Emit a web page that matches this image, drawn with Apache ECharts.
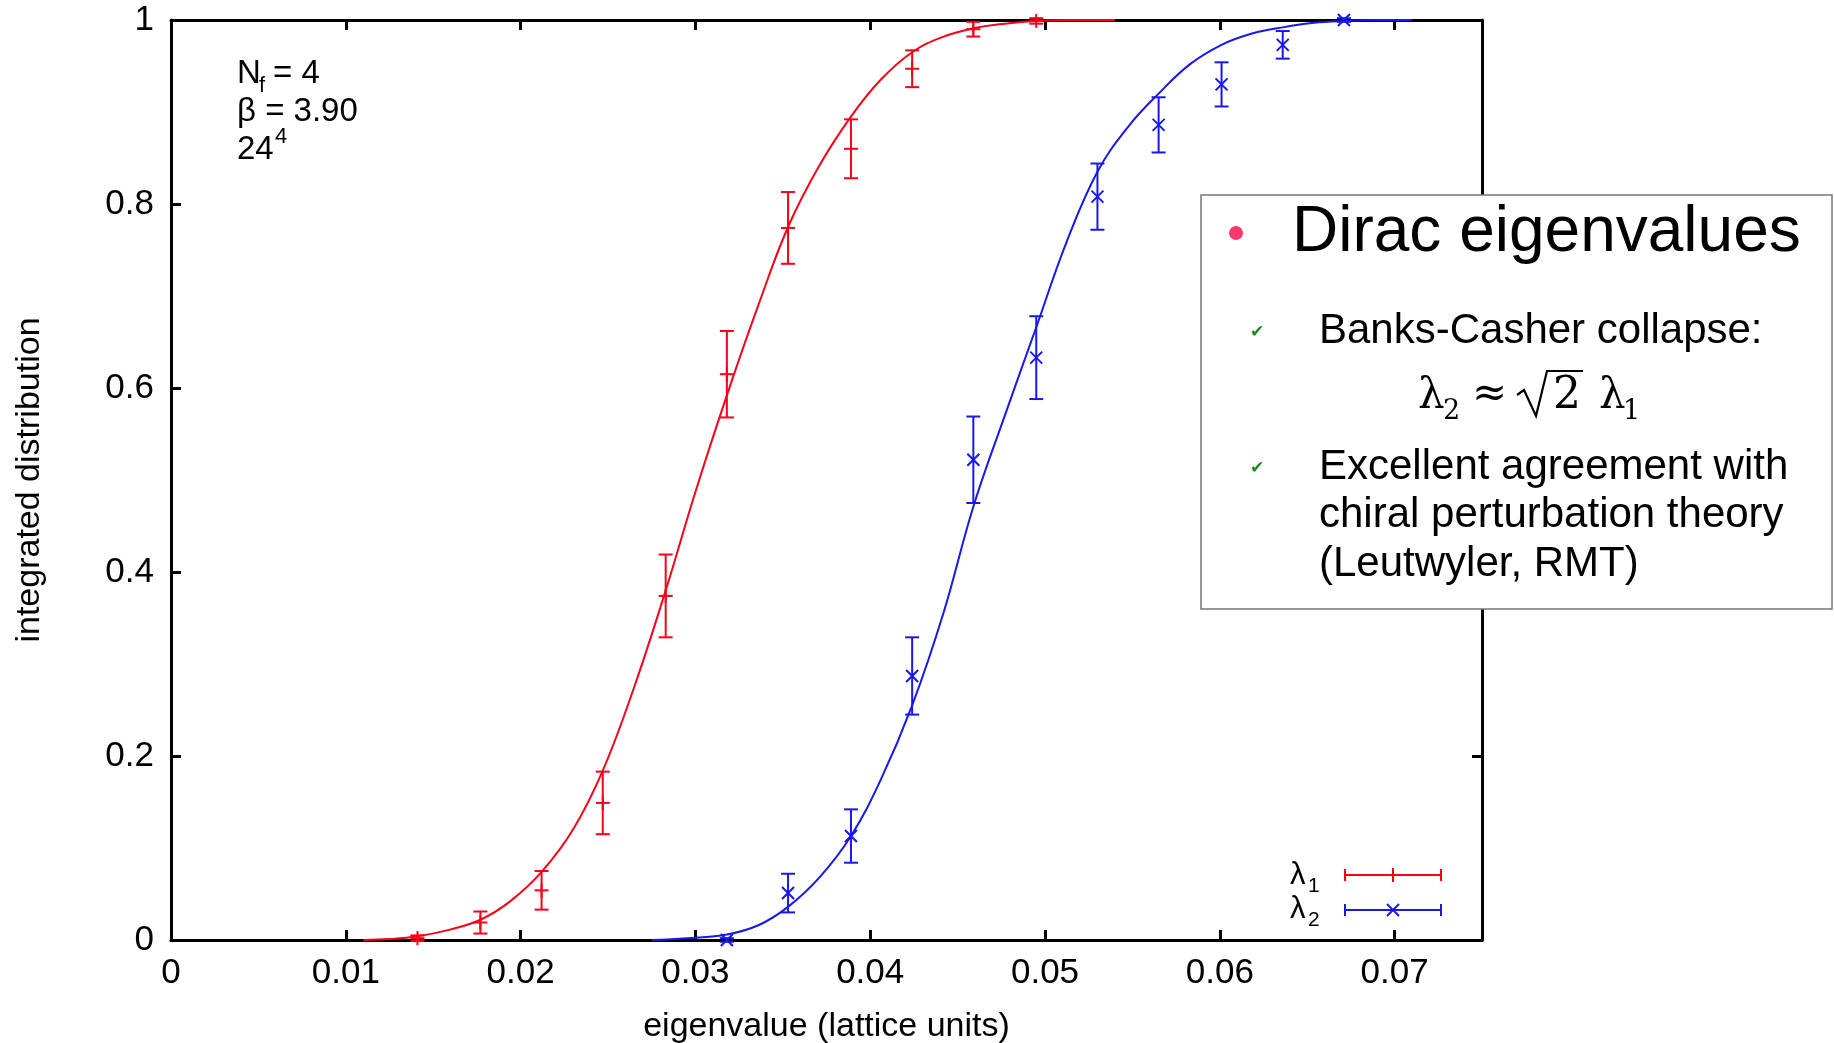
<!DOCTYPE html>
<html>
<head>
<meta charset="utf-8">
<script src="https://cdn.jsdelivr.net/npm/echarts@6/dist/echarts.min.js"></script>
<style>
  html, body { margin: 0; padding: 0; background: #fff; }
  #chart { width: 1834px; height: 1043px; }
</style>
</head>
<body>
<div id="chart"></div>
<script>
// ---------------- data ----------------
const xTicks = [0, 0.01, 0.02, 0.03, 0.04, 0.05, 0.06, 0.07];
const xTickLabels = ['0', '0.01', '0.02', '0.03', '0.04', '0.05', '0.06', '0.07'];
const yTicks = [0, 0.2, 0.4, 0.6, 0.8, 1];
const yTickLabels = ['0', '0.2', '0.4', '0.6', '0.8', '1'];

// lambda_1 data points (red, "+")
const l1X   = [0.0141, 0.0177, 0.0212, 0.0247, 0.0283, 0.0318, 0.0353, 0.0389, 0.0424, 0.0459, 0.0495];
const l1Y   = [0.002, 0.019, 0.054, 0.149, 0.374, 0.615, 0.774, 0.860, 0.947, 0.990, 0.999];
const l1Err = [0.003, 0.012, 0.021, 0.034, 0.045, 0.047, 0.039, 0.032, 0.020, 0.008, 0.003];

// lambda_2 data points (blue, "x")
const l2X   = [0.0318, 0.0353, 0.0389, 0.0424, 0.0459, 0.0495, 0.0530, 0.0565, 0.0601, 0.0636, 0.0671];
const l2Y   = [0.000, 0.051, 0.113, 0.287, 0.522, 0.633, 0.808, 0.886, 0.930, 0.973, 1.000];
const l2Err = [0.002, 0.021, 0.029, 0.042, 0.047, 0.045, 0.036, 0.030, 0.024, 0.015, 0.002];

// fitted curves
const fit1X = [0.0110, 0.0125, 0.0141, 0.0159, 0.0177, 0.0194, 0.0212, 0.0230, 0.0247, 0.0265, 0.0283, 0.0300, 0.0318, 0.0336, 0.0353, 0.0371, 0.0389, 0.0406, 0.0424, 0.0442, 0.0459, 0.0477, 0.0495, 0.0515, 0.0540];
const fit1Y = [0.000, 0.001, 0.004, 0.011, 0.022, 0.042, 0.074, 0.120, 0.184, 0.275, 0.380, 0.487, 0.592, 0.690, 0.775, 0.842, 0.895, 0.935, 0.965, 0.982, 0.991, 0.996, 0.999, 1.000, 1.000];

const fit2X = [0.0275, 0.0295, 0.0318, 0.0336, 0.0353, 0.0371, 0.0389, 0.0406, 0.0424, 0.0442, 0.0459, 0.0477, 0.0495, 0.0512, 0.0530, 0.0548, 0.0565, 0.0583, 0.0601, 0.0618, 0.0636, 0.0654, 0.0671, 0.0690, 0.0710];
const fit2Y = [0.000, 0.002, 0.006, 0.016, 0.036, 0.068, 0.113, 0.174, 0.255, 0.356, 0.471, 0.570, 0.666, 0.757, 0.835, 0.885, 0.920, 0.952, 0.973, 0.985, 0.992, 0.997, 0.999, 1.000, 1.000];

// ---------------- styling ----------------
const FONT = "'Liberation Sans', Arial, Helvetica, sans-serif";
const SERIF = "'DejaVu Serif', 'Liberation Serif', serif";
const RED = '#f80018';
const BLUE = '#1818e8';

function zip(a, b, c) { return a.map((v, i) => c ? [v, b[i], c[i]] : [v, b[i]]); }
function pick(v, ticks, labels) {
  for (let i = 0; i < ticks.length; i++) if (Math.abs(v - ticks[i]) < 1e-9) return labels[i];
  return '';
}

function errRender(color, marker) {
  return function (params, api) {
    const x = api.value(0), y = api.value(1), e = api.value(2);
    const c = api.coord([x, y]);
    const t = api.coord([x, y + e]);
    const b = api.coord([x, y - e]);
    const cw = 7, m = 7, st = { stroke: color, lineWidth: 2 };
    const ch = [
      { type: 'line', shape: { x1: c[0], y1: t[1], x2: c[0], y2: b[1] }, style: st },
      { type: 'line', shape: { x1: c[0] - cw, y1: t[1], x2: c[0] + cw, y2: t[1] }, style: st },
      { type: 'line', shape: { x1: c[0] - cw, y1: b[1], x2: c[0] + cw, y2: b[1] }, style: st }
    ];
    if (marker === 'plus') {
      ch.push({ type: 'line', shape: { x1: c[0] - m, y1: c[1], x2: c[0] + m, y2: c[1] }, style: st });
      ch.push({ type: 'line', shape: { x1: c[0], y1: c[1] - m, x2: c[0], y2: c[1] + m }, style: st });
    } else {
      const k = 6;
      ch.push({ type: 'line', shape: { x1: c[0] - k, y1: c[1] - k, x2: c[0] + k, y2: c[1] + k }, style: st });
      ch.push({ type: 'line', shape: { x1: c[0] - k, y1: c[1] + k, x2: c[0] + k, y2: c[1] - k }, style: st });
    }
    return { type: 'group', children: ch };
  };
}

function txt(s, x, base, size, family, extra) {
  return {
    type: 'text', z: 110, x: x, y: base - 0.345 * size,
    style: Object.assign({
      text: s, font: size + 'px ' + (family || FONT), fill: '#000',
      align: 'left', textAlign: 'left', verticalAlign: 'middle', textVerticalAlign: 'middle'
    }, extra || {})
  };
}
function seg(x1, y1, x2, y2, color, w) {
  return { type: 'line', z: 110, shape: { x1, y1, x2, y2 }, style: { stroke: color, lineWidth: w || 2 } };
}

const axisLineStyle = { color: '#000', width: 3 };
const tickStyle = { color: '#000', width: 3 };
const labelStyle = { fontFamily: FONT, fontSize: 35, color: '#000' };

const graphics = [
  // annotation top-left
  txt('N', 237, 85, 33),
  txt('f', 259, 94, 22),
  txt('= 4', 273, 85, 33),
  txt('\u03B2 = 3.90', 237, 123, 33),
  txt('24', 237, 161, 33),
  txt('4', 275, 145, 22),
  // key bottom-right
  txt('\u03BB', 1290, 886, 31),
  txt('1', 1308, 893, 21),
  txt('\u03BB', 1290, 920, 31),
  txt('2', 1308, 927, 21),
  seg(1345, 875, 1441, 875, RED), seg(1345, 869, 1345, 881, RED), seg(1441, 869, 1441, 881, RED), seg(1393, 868, 1393, 882, RED),
  seg(1345, 910, 1441, 910, BLUE), seg(1345, 904, 1345, 916, BLUE), seg(1441, 904, 1441, 916, BLUE),
  seg(1387, 904, 1399, 916, BLUE), seg(1387, 916, 1399, 904, BLUE),
  // slide box
  { type: 'rect', z: 100, shape: { x: 1201, y: 195, width: 631, height: 414 }, style: { fill: '#fff', stroke: '#777', lineWidth: 1.5 } },
  { type: 'circle', z: 110, shape: { cx: 1236, cy: 233, r: 7 }, style: { fill: '#ff3a6a' } },
  txt('Dirac eigenvalues', 1292, 255, 64),
  txt('\u2714', 1250, 338, 17, "'DejaVu Sans', sans-serif", { fill: '#1a8a1a' }),
  txt('Banks-Casher collapse:', 1319, 346, 42),
  // formula  lambda_2 ~ sqrt(2) lambda_1
  txt('\u03BB', 1418, 412, 42, SERIF),
  txt('2', 1443, 421, 27, SERIF),
  txt('\u2248', 1472, 410, 42, SERIF),
  { type: 'polyline', z: 110, shape: { points: [[1517, 395], [1524, 390], [1536, 416], [1547, 371], [1583, 371]] },
    style: { stroke: '#000', lineWidth: 2.2, fill: null } },
  txt('2', 1553, 412, 44, SERIF),
  txt('\u03BB', 1599, 412, 42, SERIF),
  txt('1', 1623, 421, 27, SERIF),
  txt('\u2714', 1250, 474, 17, "'DejaVu Sans', sans-serif", { fill: '#1a8a1a' }),
  txt('Excellent agreement with', 1319, 482, 42),
  txt('chiral perturbation theory', 1319, 530, 42),
  txt('(Leutwyler, RMT)', 1319, 579, 42)
];

function frameAxis(pos, min, max, ticks) {
  return {
    type: 'value', min: min, max: max, position: pos,
    axisLine: { show: true, onZero: false, lineStyle: axisLineStyle },
    axisTick: { show: true, inside: true, length: 10, lineStyle: tickStyle, customValues: ticks },
    axisLabel: { show: false },
    splitLine: { show: false }
  };
}

const option = {
  animation: false,
  backgroundColor: '#fff',
  grid: { left: 171, top: 20, width: 1311, height: 920, outerBoundsMode: 'none', containLabel: false },
  xAxis: [
    {
      type: 'value', min: 0, max: 0.075, position: 'bottom',
      axisLine: { show: true, onZero: false, lineStyle: axisLineStyle },
      axisTick: { inside: true, length: 10, lineStyle: tickStyle, customValues: xTicks },
      axisLabel: Object.assign({ customValues: xTicks, margin: 16, formatter: v => pick(v, xTicks, xTickLabels) }, labelStyle),
      splitLine: { show: false },
      name: 'eigenvalue (lattice units)', nameLocation: 'middle', nameGap: 70,
      nameTextStyle: { fontFamily: FONT, fontSize: 34, color: '#000' }
    },
    frameAxis('top', 0, 0.075, xTicks)
  ],
  yAxis: [
    {
      type: 'value', min: 0, max: 1, position: 'left',
      axisLine: { show: true, onZero: false, lineStyle: axisLineStyle },
      axisTick: { show: true, inside: true, length: 10, lineStyle: tickStyle, customValues: yTicks },
      axisLabel: Object.assign({ customValues: yTicks, margin: 17, formatter: v => pick(v, yTicks, yTickLabels) }, labelStyle),
      splitLine: { show: false },
      name: 'integrated distribution', nameLocation: 'middle', nameGap: 124,
      nameTextStyle: { fontFamily: FONT, fontSize: 34, color: '#000' }
    },
    frameAxis('right', 0, 1, yTicks)
  ],
  series: [
    {
      name: 'fit1', type: 'line', data: zip(fit1X, fit1Y), showSymbol: false,
      smooth: 0.4, lineStyle: { color: RED, width: 2 }, z: 3, clip: true
    },
    {
      name: 'fit2', type: 'line', data: zip(fit2X, fit2Y), showSymbol: false,
      smooth: 0.4, lineStyle: { color: BLUE, width: 2 }, z: 3, clip: true
    },
    { name: '\u03BB1', type: 'custom', data: zip(l1X, l1Y, l1Err), renderItem: errRender(RED, 'plus'), z: 4 },
    { name: '\u03BB2', type: 'custom', data: zip(l2X, l2Y, l2Err), renderItem: errRender(BLUE, 'cross'), z: 4 }
  ],
  graphic: graphics
};

const chart = echarts.init(document.getElementById('chart'), null, { renderer: 'canvas' });
chart.setOption(option);
</script>
</body>
</html>
